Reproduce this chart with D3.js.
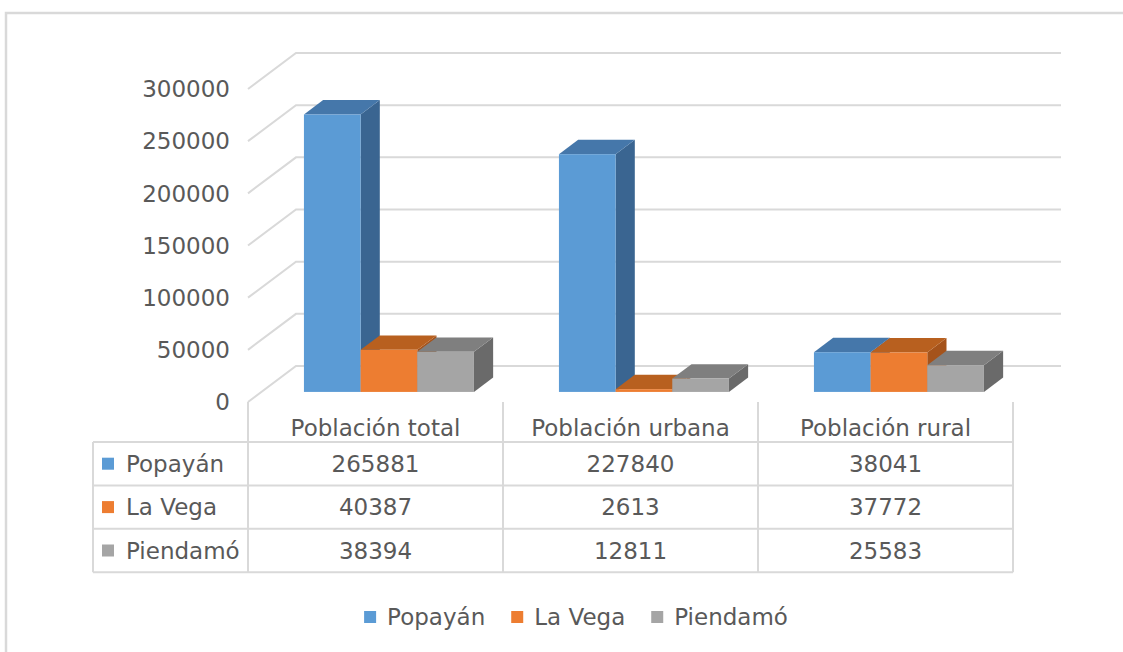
<!DOCTYPE html>
<html>
<head>
<meta charset="utf-8">
<script src="https://cdn.jsdelivr.net/npm/d3@7"></script>
<style>
  body { margin: 0; background: #fff; }
  text { font-family: "DejaVu Sans", sans-serif; fill: #595959; }
</style>
</head>
<body>
<div id="chart"></div>
<script>
// Données
const categories = ["Población total", "Población urbana", "Población rural"];
const series = ["Popayán", "La Vega", "Piendamó"];
const popayan = [265881, 227840, 38041];
const laVega = [40387, 2613, 37772];
const piendamo = [38394, 12811, 25583];
const yTicks = [0, 50000, 100000, 150000, 200000, 250000, 300000];

const values = [popayan, laVega, piendamo];
const colors = [
  { front: "#5b9bd5", top: "#4577aa", side: "#3a6591" },
  { front: "#ed7d31", top: "#b8601f", side: "#a5531b" },
  { front: "#a5a5a5", top: "#7f7f7f", side: "#6a6a6a" }
];

const width = 1123, height = 652;
const fontSize = "23px";
const floorY = 402;           // front floor line
const depthX = 48, depthY = 36; // full depth offset of the walls
const zFront = 0.28, zBack = 0.68; // depth of the bars
const tableTop = 442, rowH = 43.4, tableLeft = 93;

var svg = d3
  .select("#chart")
  .append("svg")
  .attr("width", width)
  .attr("height", height);

// cadre extérieur
svg.append("rect")
  .attr("x", 6).attr("y", 13)
  .attr("width", width + 20).attr("height", height + 20)
  .attr("fill", "none")
  .attr("stroke", "#d9d9d9")
  .attr("stroke-width", 2.5);

let y = d3.scaleLinear().domain([0, 300000]).range([0, 313]);
let x = d3.scaleBand().domain(categories).range([248, 1013]);
let xs = d3.scaleBand().domain(series).range([0, x.bandwidth()])
  .paddingInner(0).paddingOuter(0.75);

// grille : paroi gauche + paroi du fond
let grid = svg.append("g")
  .attr("stroke", "#d9d9d9")
  .attr("stroke-width", 2)
  .attr("fill", "none");

grid.selectAll("path.wall")
  .data(yTicks)
  .enter()
  .append("path")
  .attr("d", function (t) {
    let yf = floorY - y(t);
    let yb = yf - depthY;
    return "M" + x.range()[0] + "," + yf +
      "L" + (x.range()[0] + depthX) + "," + yb +
      "L" + (x.range()[1] + depthX) + "," + yb;
  });

// axe y
svg.selectAll("text.ytick")
  .data(yTicks)
  .enter()
  .append("text")
  .attr("x", 230)
  .attr("y", function (t) { return floorY - y(t); })
  .attr("dy", "0.36em")
  .attr("text-anchor", "end")
  .style("font-size", fontSize)
  .text(function (t) { return t; });

// barres 3D
let bars = [];
categories.forEach(function (c, ci) {
  series.forEach(function (s, si) {
    bars.push({ cat: c, ser: s, si: si, v: values[si][ci] });
  });
});

let barG = svg.selectAll("g.bar")
  .data(bars)
  .enter()
  .append("g");

function pt(px, py) { return px + "," + py; }

barG.each(function (d) {
  let g = d3.select(this);
  let x0 = x(d.cat) + xs(d.ser) + depthX * zFront;
  let x1 = x0 + xs.bandwidth();
  let base = floorY - depthY * zFront;
  let top = base - y(d.v);
  let dx = depthX * (zBack - zFront), dy = depthY * (zBack - zFront);
  let col = colors[d.si];
  g.append("polygon")
    .attr("points", [pt(x1, top), pt(x1 + dx, top - dy), pt(x1 + dx, base - dy), pt(x1, base)].join(" "))
    .attr("fill", col.side);
  g.append("polygon")
    .attr("points", [pt(x0, top), pt(x1, top), pt(x1 + dx, top - dy), pt(x0 + dx, top - dy)].join(" "))
    .attr("fill", col.top);
  g.append("rect")
    .attr("x", x0).attr("y", top)
    .attr("width", xs.bandwidth()).attr("height", base - top)
    .attr("fill", col.front);
});

// tableau de données
let tbl = svg.append("g")
  .attr("stroke", "#d9d9d9")
  .attr("stroke-width", 2)
  .attr("fill", "none");

let colEdges = [x.range()[0]].concat(categories.map(function (c) { return x(c) + x.bandwidth(); }));
let tableBottom = tableTop + rowH * series.length;

colEdges.forEach(function (cx) {
  tbl.append("line")
    .attr("x1", cx).attr("x2", cx)
    .attr("y1", floorY).attr("y2", tableBottom);
});
tbl.append("line")
  .attr("x1", tableLeft).attr("x2", tableLeft)
  .attr("y1", tableTop).attr("y2", tableBottom);
d3.range(series.length + 1).forEach(function (i) {
  tbl.append("line")
    .attr("x1", tableLeft).attr("x2", x.range()[1])
    .attr("y1", tableTop + i * rowH).attr("y2", tableTop + i * rowH);
});

// entêtes de colonnes
svg.selectAll("text.cat")
  .data(categories)
  .enter()
  .append("text")
  .attr("x", function (c) { return x(c) + x.bandwidth() / 2; })
  .attr("y", (floorY + tableTop) / 2 + 6)
  .attr("dy", "0.36em")
  .attr("text-anchor", "middle")
  .style("font-size", fontSize)
  .text(function (c) { return c; });

// lignes du tableau
series.forEach(function (s, si) {
  let cy = tableTop + rowH * si + rowH / 2;
  svg.append("rect")
    .attr("x", 102).attr("y", cy - 6)
    .attr("width", 12).attr("height", 12)
    .attr("fill", colors[si].front);
  svg.append("text")
    .attr("x", 126).attr("y", cy)
    .attr("dy", "0.36em")
    .style("font-size", fontSize)
    .text(s);
  categories.forEach(function (c, ci) {
    svg.append("text")
      .attr("x", x(c) + x.bandwidth() / 2)
      .attr("y", cy)
      .attr("dy", "0.36em")
      .attr("text-anchor", "middle")
      .style("font-size", fontSize)
      .text(values[si][ci]);
  });
});

// légende
let legend = svg.append("g");
let lx = 0;
series.forEach(function (s, si) {
  let item = legend.append("g").attr("transform", "translate(" + lx + ",0)");
  item.append("rect")
    .attr("x", 0).attr("y", -6)
    .attr("width", 12).attr("height", 12)
    .attr("fill", colors[si].front);
  let t = item.append("text")
    .attr("x", 23).attr("y", 0)
    .attr("dy", "0.36em")
    .style("font-size", fontSize)
    .text(s);
  lx += 23 + t.node().getComputedTextLength() + 26;
});
let legendW = lx - 26;
legend.attr("transform", "translate(" + (576 - legendW / 2) + ",617)");
</script>
</body>
</html>
